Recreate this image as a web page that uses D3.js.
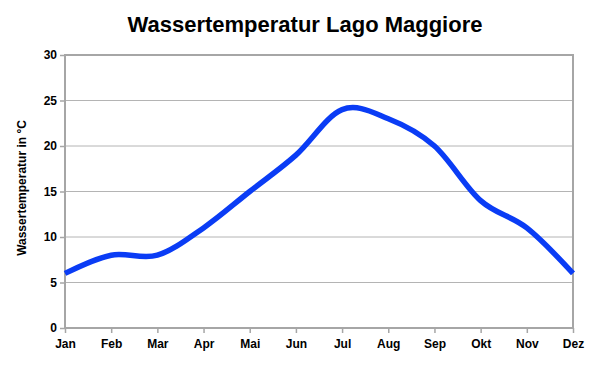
<!DOCTYPE html>
<html><head><meta charset="utf-8">
<script src="https://cdn.jsdelivr.net/npm/d3@7"></script>
<style>body{margin:0;background:#fff;}svg{display:block;}text{font-family:Arial,"Liberation Sans",sans-serif;}</style>
</head><body>
<svg id="c" width="596" height="374"></svg>
<script>
const months = ["Jan","Feb","Mar","Apr","Mai","Jun","Jul","Aug","Sep","Okt","Nov","Dez"];
const temps = [6, 8, 8, 11, 15, 19, 24, 23, 20, 14, 11, 6];
const yTicks = [0, 5, 10, 15, 20, 25, 30];
const title = "Wassertemperatur Lago Maggiore";
const yTitle = "Wassertemperatur in °C";

const svg = d3.select("#c");
const L = 65, R = 573, T = 55, B = 328;
const x = d3.scalePoint().domain(months).range([L, R]);
const y = d3.scaleLinear().domain([0, 30]).range([B, T]);

// gridlines
svg.append("g").selectAll("line").data(yTicks.filter(d => d > 0 && d < 30)).join("line")
  .attr("x1", L).attr("x2", R).attr("y1", d => y(d)).attr("y2", d => y(d))
  .attr("stroke", "#b4b4b4").attr("stroke-width", 1);

// frame
svg.append("rect").attr("x", L).attr("y", T).attr("width", R - L).attr("height", B - T)
  .attr("fill", "none").attr("stroke", "#a6a6a6").attr("stroke-width", 2);

// y axis
const ya = svg.append("g").attr("transform", `translate(${L},0)`)
  .call(d3.axisLeft(y).tickValues(yTicks).tickSize(5).tickPadding(3));
ya.select(".domain").remove();
ya.selectAll(".tick line").attr("stroke", "#a6a6a6").attr("stroke-width", 1.5);
ya.selectAll(".tick text").attr("font-size", 12).attr("font-weight", "bold").attr("fill", "#000")
  .attr("font-family", "Arial, 'Liberation Sans', sans-serif");

// x axis
const xa = svg.append("g").attr("transform", `translate(0,${B})`)
  .call(d3.axisBottom(x).tickSize(5).tickPadding(6));
xa.select(".domain").remove();
xa.selectAll(".tick line").attr("stroke", "#a6a6a6").attr("stroke-width", 1.5);
xa.selectAll(".tick text").attr("font-size", 12).attr("font-weight", "bold").attr("fill", "#000")
  .attr("font-family", "Arial, 'Liberation Sans', sans-serif");

// line
const line = d3.line().x((d, i) => x(months[i])).y(d => y(d)).curve(d3.curveCardinal.tension(0));
svg.append("path").datum(temps).attr("d", line)
  .attr("fill", "none").attr("stroke", "#0a3cf5").attr("stroke-width", 5.5)
  .attr("stroke-linecap", "butt").attr("stroke-linejoin", "round");

// title
svg.append("text").attr("x", 305).attr("y", 32).attr("text-anchor", "middle")
  .attr("font-size", 22).attr("font-weight", "bold").text(title);

// y title
svg.append("text").attr("transform", "translate(26,188) rotate(-90)").attr("text-anchor", "middle")
  .attr("font-size", 12).attr("font-weight", "bold").text(yTitle);
</script>
</body></html>
